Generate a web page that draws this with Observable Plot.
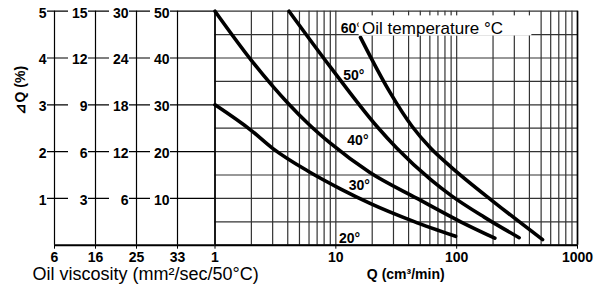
<!DOCTYPE html>
<html><head><meta charset="utf-8">
<script src="https://cdn.jsdelivr.net/npm/d3@7"></script>
<script src="https://cdn.jsdelivr.net/npm/@observablehq/plot@0.6"></script>
<style>
body{margin:0;background:#fff}
#chart{position:relative;width:605px;height:288px}
#chart svg{position:absolute;left:0;top:0}
</style>
</head><body><div id="chart"></div>
<script>
// ---- tick labels ----
const qTicks = [1, 10, 100, 1000];
const dqTicks = [1, 2, 3, 4, 5];
const viscosityTicks = [6, 16, 25, 33];
const scaleDQ = [1, 2, 3, 4, 5];
const scale16 = [3, 6, 9, 12, 15];
const scale25 = [6, 12, 18, 24, 30];
const scale33 = [10, 20, 30, 40, 50];
const tempLabels = ["20°", "30°", "40°", "50°", "60°"];

// ---- curves: Q (cm³/min) vs ΔQ (%) ----
const q30  = [1, 2, 3, 6, 11, 19, 44, 98];
const dq30 = [3.0, 2.45, 2.07, 1.57, 1.2, 0.9, 0.51, 0.19];
const q40  = [1, 2, 3, 4, 6, 9, 19, 47, 108, 207];
const dq40 = [5.0, 3.95, 3.40, 3.04, 2.58, 2.18, 1.56, 1.0, 0.5, 0.15];
const q50  = [4.1, 9, 22, 32, 61, 89, 169, 329];
const dq50 = [5.0, 3.81, 2.53, 2.07, 1.40, 1.07, 0.60, 0.16];
const q60  = [16, 19.4, 28, 43, 61, 89, 211, 514];
const dq60 = [4.44, 4.02, 3.27, 2.53, 2.07, 1.68, 0.89, 0.12];

const curves = [
  ...q30.map((q, i) => ({q, dq: dq30[i], t: "30"})),
  ...q40.map((q, i) => ({q, dq: dq40[i], t: "40"})),
  ...q50.map((q, i) => ({q, dq: dq50[i], t: "50"})),
  ...q60.map((q, i) => ({q, dq: dq60[i], t: "60"}))
];

const leftCols = [scaleDQ, scale16, scale25, scale33];
const leftLabels = leftCols.flatMap((arr, c) => arr.map((v, j) => ({col: c, dq: dqTicks[j], label: v})));

const FONT = "'Liberation Sans', Arial, sans-serif";
const H = 288, W = 605, MT = 10.7, MB = 43.3;
const gridQ = d3.scaleLog().domain([1, 1000]).ticks(10);
const gridDQ = d3.range(0, 5.01, 0.5);

const main = Plot.plot({
  width: W, height: H,
  marginLeft: 214.5, marginRight: 28, marginTop: MT, marginBottom: MB,
  style: {fontFamily: FONT, fontSize: "14px", color: "black", background: "white", overflow: "visible"},
  x: {type: "log", domain: [1, 1000], axis: null},
  y: {domain: [0, 5], axis: null},
  marks: [
    Plot.ruleX(gridQ, {y1: 0, y2: 5, stroke: "#333", strokeWidth: 1.2}),
    Plot.ruleY(gridDQ, {stroke: "#333", strokeWidth: 1.2}),
    Plot.ruleX([1, 1000], {y1: 0, y2: 5, stroke: "black", strokeWidth: 1.6}),
    Plot.ruleY([0], {stroke: "black", strokeWidth: 2}),
    Plot.axisX({ticks: qTicks, tickFormat: d => String(d), tickSize: 4, tickPadding: 3,
      fontSize: 14, fontWeight: "bold", label: null, stroke: "black"}),
    Plot.line(curves, {x: "q", y: "dq", z: "t", stroke: "black", strokeWidth: 3.6,
      curve: "monotone-x", strokeLinecap: "round"}),
    Plot.text(tempLabels, {x: [10.6, 12.8, 12.45, 11.5, 11], y: [0.14, 1.28, 2.24, 3.63, 4.63],
      text: d => d, textAnchor: "start", fontWeight: "bold", fontSize: 14, fill: "black"}),
    Plot.rect([0], {x1: 15.6, x2: 419, y1: 4.47, y2: 4.9, fill: "white"}),
    Plot.text(["Oil temperature °C"], {x: 16.5, y: 4.63, text: d => d, textAnchor: "start",
      fontSize: 17, fill: "black"}),
    Plot.text(["⊿Q (%)"], {frameAnchor: "left", lineAnchor: "middle", dx: -194.5, dy: -13.7, rotate: -90,
      text: d => d, fontWeight: "bold", fontSize: 14, fill: "black"}),
    Plot.text(["Q (cm³/min)"], {frameAnchor: "bottom", lineAnchor: "middle", dx: 9.5, dy: 29.5,
      text: d => d, fontWeight: "bold", fontSize: 14, fill: "black"}),
    Plot.text(["Oil viscosity (mm²/sec/50°C)"], {frameAnchor: "bottom-left", lineAnchor: "middle", dx: -182.5, dy: 29.5,
      text: d => d, textAnchor: "start", fontSize: 18, fill: "black"})
  ]
});

const left = Plot.plot({
  width: W, height: H,
  marginLeft: 47, marginRight: W - 214.5, marginTop: MT, marginBottom: MB,
  style: {fontFamily: FONT, fontSize: "14px", color: "black", background: "transparent", overflow: "visible"},
  x: {domain: [0, 3], range: [54, 177], axis: null},
  y: {domain: [0, 5], axis: null},
  marks: [
    Plot.ruleY(dqTicks, {stroke: "black", strokeWidth: 1.2}),
    Plot.ruleY([0], {stroke: "black", strokeWidth: 2, insetLeft: 7}),
    Plot.ruleX([0, 1, 2, 3], {y1: 0, y2: 5, stroke: "black", strokeWidth: 1.2}),
    Plot.axisX({ticks: [0, 1, 2, 3], tickFormat: i => String(viscosityTicks[i]), tickSize: 4, tickPadding: 3,
      fontSize: 14, fontWeight: "bold", label: null, stroke: "black"}),
    Plot.rect(leftLabels, {x1: "col", x2: "col", y1: "dq", y2: "dq", fill: "white",
      insetLeft: -27, insetRight: 7, insetTop: -6, insetBottom: -8}),
    Plot.text(leftLabels, {x: "col", y: "dq", text: "label", textAnchor: "end", dx: -8, dy: 2,
      fontWeight: "bold", fontSize: 14, fill: "black"})
  ]
});

const el = document.getElementById("chart");
el.appendChild(main);
el.appendChild(left);
</script>
</body></html>
